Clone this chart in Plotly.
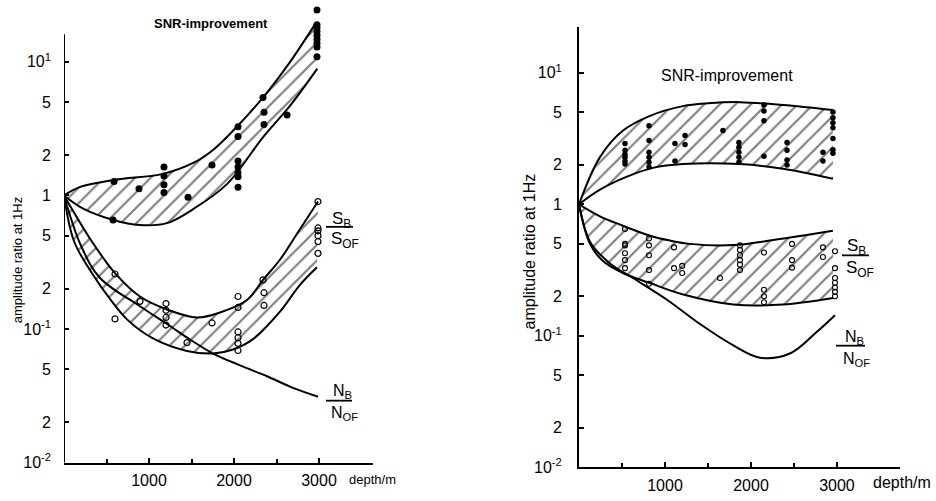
import plotly.graph_objects as go

W, H = 936, 501

# ---------------- LEFT PANEL DATA ----------------
L_snr_up_x = [0, 190, 600, 1165, 1520, 1750, 2000, 2340, 2660, 2950]
L_snr_up_y = [1.0, 1.16, 1.31, 1.45, 1.75, 2.18, 3.1, 5.4, 10.0, 19.0]
L_snr_lo_x = [0, 220, 580, 890, 1210, 1520, 1920, 2340, 2660, 2980]
L_snr_lo_y = [1.0, 0.80, 0.655, 0.60, 0.62, 0.79, 1.22, 2.72, 4.7, 8.9]

L_sb_up_x = [0, 340, 600, 894, 1212, 1565, 1835, 2153, 2341, 2540, 2741, 2988]
L_sb_up_y = [1.0, 0.44, 0.262, 0.175, 0.14, 0.122, 0.133, 0.165, 0.233, 0.33, 0.516, 0.90]
L_sb_lo_x = [0, 120, 341, 541, 741, 1047, 1447, 1753, 1988, 2224, 2541, 2776, 2976]
L_sb_lo_y = [1.0, 0.45, 0.255, 0.168, 0.118, 0.085, 0.0685, 0.0655, 0.0702, 0.084, 0.135, 0.214, 0.29]

L_nb_x = [0, 200, 424, 894, 1212, 1500, 1753, 2071, 2388, 2694, 2988]
L_nb_y = [1.0, 0.42, 0.241, 0.148, 0.109, 0.082, 0.0655, 0.0534, 0.0443, 0.0362, 0.0311]

L_dot_x = [588, 577, 882, 1176, 1176, 1176, 1176, 1459, 1741,
           2047, 2047, 2047, 2047, 2047, 2047, 2047,
           2341, 2353, 2353, 2624,
           2976, 2976, 2976, 2976, 2976, 2976, 2976, 2976, 2976]
L_dot_y = [1.27, 0.655, 1.12, 1.63, 1.40, 1.20, 1.05, 0.97, 1.69,
           3.27, 2.76, 1.81, 1.63, 1.48, 1.38, 1.15,
           5.4, 4.2, 3.4, 4.0,
           24.5, 19.0, 18.0, 16.9, 15.8, 14.8, 13.8, 12.9, 10.9]

L_circ_x = [600, 600, 894, 1200, 1200, 1200, 1200, 1447, 1741,
            2047, 2047, 2047, 2047, 2047, 2047,
            2341, 2353, 2353,
            2988, 2988, 2988, 2988, 2988, 2988]
L_circ_y = [0.258, 0.119, 0.161, 0.155, 0.138, 0.122, 0.107, 0.079, 0.111,
            0.175, 0.145, 0.095, 0.086, 0.078, 0.069,
            0.233, 0.187, 0.150,
            0.90, 0.571, 0.543, 0.50, 0.451, 0.368]

# ---------------- RIGHT PANEL DATA ----------------
R_snr_up_x = [0, 244, 512, 826, 1209, 1500, 1872, 2372, 2953]
R_snr_up_y = [1.0, 2.28, 3.63, 4.7, 5.57, 5.85, 5.97, 5.68, 5.2]
R_snr_lo_x = [0, 244, 558, 860, 1209, 1872, 2372, 2953]
R_snr_lo_y = [1.0, 1.29, 1.62, 1.89, 2.02, 2.02, 1.86, 1.56]

R_sb_up_x = [0, 244, 477, 826, 1058, 1291, 1800, 2453, 2953]
R_sb_up_y = [1.0, 0.81, 0.70, 0.577, 0.53, 0.50, 0.49, 0.56, 0.63]
R_sb_lo_x = [0, 128, 279, 516, 826, 1213, 1795, 2376, 2957]
R_sb_lo_y = [1.0, 0.50, 0.37, 0.299, 0.252, 0.206, 0.173, 0.173, 0.194]

R_nb_x = [0, 128, 360, 632, 1019, 1407, 1795, 2105, 2453, 2764, 2977]
R_nb_y = [1.0, 0.52, 0.355, 0.274, 0.189, 0.123, 0.0847, 0.0683, 0.0734, 0.107, 0.1435]

R_dot_x = [535, 535, 535, 535, 535, 535,
           814, 814, 814, 814, 814, 814,
           1116, 1116, 1233, 1233, 1674,
           1860, 1860, 1860, 1860, 1860,
           2151, 2151, 2151, 2151,
           2419, 2419, 2419, 2419,
           2837, 2837,
           2953, 2953, 2953, 2953, 2953, 2953, 2953]
R_dot_y = [2.9, 2.57, 2.4, 2.28, 2.13, 2.02,
           3.95, 3.05, 2.49, 2.28, 2.09, 1.92,
           2.9, 2.13, 3.33, 2.85, 3.63,
           2.95, 2.71, 2.49, 2.28, 2.09,
           5.68, 5.12, 4.31, 2.32,
           2.95, 2.57, 2.17, 1.99,
           2.49, 2.13,
           5.02, 4.54, 4.16, 3.82, 3.16, 2.44, 2.6]

R_circ_x = [535, 535, 535, 535, 535, 535,
            814, 814, 814, 814, 814,
            1105, 1105, 1200, 1200, 1640,
            1872, 1872, 1872, 1872, 1872, 1872,
            2151, 2151, 2151, 2151,
            2477, 2477, 2477,
            2837, 2837,
            2977, 2977, 2977, 2977, 2977, 2977, 2977]
R_circ_y = [0.65, 0.5, 0.487, 0.424, 0.376, 0.327,
            0.55, 0.487, 0.41, 0.316, 0.249,
            0.47, 0.327, 0.34, 0.30, 0.275,
            0.487, 0.45, 0.41, 0.376, 0.349, 0.316,
            0.43, 0.224, 0.20, 0.18,
            0.50, 0.376, 0.33,
            0.47, 0.397,
            0.44, 0.327, 0.275, 0.253, 0.233, 0.216, 0.20]

YT_VALS = [0.01, 0.02, 0.05, 0.1, 0.2, 0.5, 1, 2, 5, 10]
YT_TEXT = ["10<sup>-2</sup>", "2", "5", "10<sup>-1</sup>", "2", "5", "1", "2", "5", "10<sup>1</sup>"]
XT_VALS = [1000, 2000, 3000]
XT_TEXT = ["1000", "2000", "3000"]
XT_MINOR = [500, 1500, 2500]

FONT = "Liberation Sans, Arial, sans-serif"

fig = go.Figure()


def band(xa, ya, xb, yb, sx, sy, lw):
    fig.add_trace(go.Scatter(
        x=list(xa) + list(xb)[::-1], y=list(ya) + list(yb)[::-1],
        mode="lines", fill="toself", line=dict(width=0, color="rgba(0,0,0,0)"),
        fillcolor="white",
        fillpattern=dict(shape="/", fgcolor="black", bgcolor="white", size=11, solidity=0.2),
        xaxis=sx, yaxis=sy, hoverinfo="skip"))
    for xx, yy in ((xa, ya), (xb, yb)):
        fig.add_trace(go.Scatter(x=xx, y=yy, mode="lines", line=dict(color="black", width=lw, shape="spline"),
                                 xaxis=sx, yaxis=sy, hoverinfo="skip"))


# left panel
band(L_snr_up_x, L_snr_up_y, L_snr_lo_x, L_snr_lo_y, "x", "y", 2)
band(L_sb_up_x, L_sb_up_y, L_sb_lo_x, L_sb_lo_y, "x", "y", 2)
fig.add_trace(go.Scatter(x=L_nb_x, y=L_nb_y, mode="lines", line=dict(color="black", width=2, shape="spline"),
                         xaxis="x", yaxis="y"))
fig.add_trace(go.Scatter(x=L_dot_x, y=L_dot_y, mode="markers", marker=dict(color="black", size=7, symbol="circle"),
                         xaxis="x", yaxis="y"))
fig.add_trace(go.Scatter(x=L_circ_x, y=L_circ_y, mode="markers",
                         marker=dict(color="black", size=6, symbol="circle-open", line=dict(width=1.2)),
                         xaxis="x", yaxis="y"))

# right panel
band(R_snr_up_x, R_snr_up_y, R_snr_lo_x, R_snr_lo_y, "x2", "y2", 2)
band(R_sb_up_x, R_sb_up_y, R_sb_lo_x, R_sb_lo_y, "x2", "y2", 2)
fig.add_trace(go.Scatter(x=R_nb_x, y=R_nb_y, mode="lines", line=dict(color="black", width=2, shape="spline"),
                         xaxis="x2", yaxis="y2"))
fig.add_trace(go.Scatter(x=R_dot_x, y=R_dot_y, mode="markers", marker=dict(color="black", size=5.5, symbol="circle"),
                         xaxis="x2", yaxis="y2"))
fig.add_trace(go.Scatter(x=R_circ_x, y=R_circ_y, mode="markers",
                         marker=dict(color="black", size=5, symbol="circle-open", line=dict(width=1.1)),
                         xaxis="x2", yaxis="y2"))


def pxx(x):
    return x / W


def pyy(y):
    return 1 - y / H


axis_common = dict(showgrid=False, zeroline=False, ticks="inside", ticklen=5, tickwidth=1.5,
                   tickcolor="black", tickfont=dict(family=FONT, size=16, color="black"))
minor_x = dict(tickvals=XT_MINOR, ticks="inside", ticklen=4, tickwidth=1.5, tickcolor="black", showgrid=False)

fig.update_layout(
    width=W, height=H, autosize=False,
    margin=dict(l=0, r=0, t=0, b=0),
    paper_bgcolor="white", plot_bgcolor="white",
    showlegend=False,
    xaxis=dict(domain=[pxx(64), pxx(373)], range=[0, 3635], anchor="y",
               showline=True, linecolor="black", linewidth=2, minor=minor_x,
               tickvals=XT_VALS, ticktext=XT_TEXT, ticklabelstandoff=2, **axis_common),
    yaxis=dict(domain=[pyy(471), 1], type="log", range=[-2, -2 + 471 / 136], anchor="x",
               showline=False, tickvals=YT_VALS, ticktext=YT_TEXT, ticklabelstandoff=12, **axis_common),
    xaxis2=dict(domain=[pxx(579), pxx(900)], range=[0, 3733], anchor="y2",
                showline=True, linecolor="black", linewidth=2, minor=minor_x,
                tickvals=XT_VALS, ticktext=XT_TEXT, ticklabelstandoff=2, **axis_common),
    yaxis2=dict(domain=[pyy(476), pyy(28)], type="log", range=[-2, -2 + 448 / 134], anchor="x2",
                showline=True, linecolor="black", linewidth=2,
                tickvals=YT_VALS, ticktext=YT_TEXT, ticklabelstandoff=12, **axis_common),
)

# left y-axis line (stops below the top of the plotting area)
fig.add_shape(type="line", xref="x", x0=0, x1=0, yref="y domain", y0=0, y1=(471 - 35) / 471,
              line=dict(color="black", width=2))


def text(x, y, s, size, bold=False, angle=0, anchor="center"):
    fig.add_annotation(x=pxx(x), y=pyy(y), xref="paper", yref="paper", text=("<b>%s</b>" % s) if bold else s,
                       showarrow=False, xanchor=anchor, yanchor="middle", textangle=angle,
                       font=dict(family=FONT, size=size, color="black"))


def frac_line(x0, x1, y):
    fig.add_shape(type="line", xref="paper", yref="paper", x0=pxx(x0), x1=pxx(x1), y0=pyy(y), y1=pyy(y),
                  line=dict(color="black", width=1.8))


text(211, 24, "SNR-improvement", 13, bold=True)
text(727, 77, "SNR-improvement", 16)
text(17, 265, "amplitude ratio at 1Hz", 13, angle=-90)
text(529, 256, "amplitude ratio at 1Hz", 16, angle=-90)
text(347, 488, "depth/m", 13, anchor="left")
text(871, 491, "depth/m", 16, anchor="left")

text(341, 224, "S<sub>B</sub>", 17)
frac_line(326, 353, 231)
text(345, 244, "S<sub>OF</sub>", 17)
text(342, 399, "N<sub>B</sub>", 16)
frac_line(326, 352, 408)
text(344, 421, "N<sub>OF</sub>", 16)

text(856, 252, "S<sub>B</sub>", 17)
frac_line(842, 869, 260)
text(860, 274, "S<sub>OF</sub>", 17)
text(854, 344, "N<sub>B</sub>", 16)
frac_line(836, 865, 352)
text(856, 366, "N<sub>OF</sub>", 16)

fig.write_html("out.html", config={"displayModeBar": False},
               post_script="document.body.style.margin='0';document.body.style.overflow='hidden';")
